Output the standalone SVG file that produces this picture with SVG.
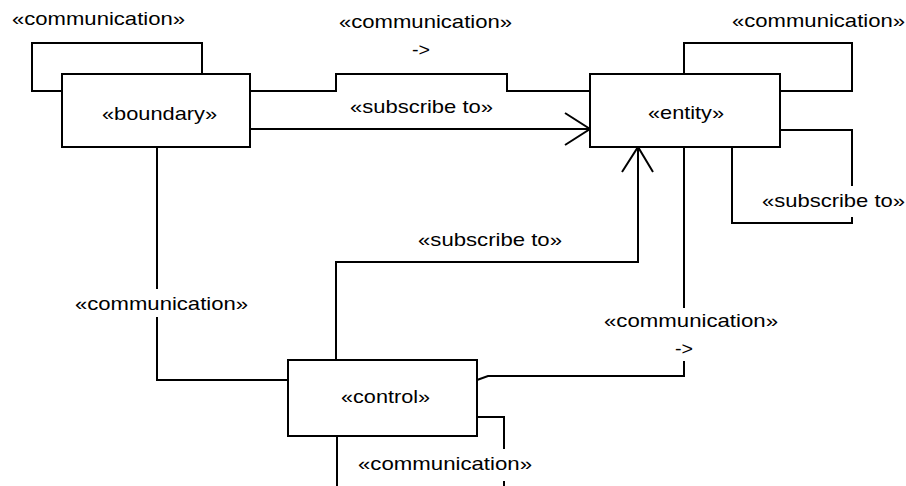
<svg xmlns="http://www.w3.org/2000/svg" width="906" height="486" viewBox="0 0 906 486">
<style>
.node{fill:#fff;stroke:#000;stroke-width:2}
.edge{fill:none;stroke:#000;stroke-width:2}
.t{font-family:"Liberation Sans",Arial,sans-serif;font-size:18.5px;fill:#000}
.bg{fill:#fff;stroke:none}
</style>
<rect width="906" height="486" fill="#fff"/>
<g id="connectors">
  <path class="edge" d="M62,91 H32 V43 H202 V74"/>
  <path class="edge" d="M250,91 H336 V74 H507 V91 H590"/>
  <path class="edge" d="M250,129 H590 M565,113 L590,129 L565,145"/>
  <path class="edge" d="M684,74 V43 H852 V91 H780"/>
  <path class="edge" d="M780,130 H852 V223 H732 V147"/>
  <path class="edge" d="M336,360 V262 H638 V147 M622,172 L638,147 L653,172"/>
  <path class="edge" d="M157,147 V380 H288"/>
  <path class="edge" d="M684,147 V376 H488 L477,380"/>
  <path class="edge" d="M477,417 H504 V500"/>
  <path class="edge" d="M337,436 V500"/>
</g>
<g id="connector-labels">
  <text class="t" x="12" y="25" textLength="173" lengthAdjust="spacingAndGlyphs">«communication»</text>
  <text class="t" x="339" y="28" textLength="173" lengthAdjust="spacingAndGlyphs">«communication»</text>
  <text class="t" x="412" y="56" textLength="18" lengthAdjust="spacingAndGlyphs">-&gt;</text>
  <text class="t" x="350" y="112.5" textLength="143" lengthAdjust="spacingAndGlyphs">«subscribe to»</text>
  <text class="t" x="732" y="27" textLength="173" lengthAdjust="spacingAndGlyphs">«communication»</text>
  <rect class="bg" x="760" y="186" width="146" height="31"/>
  <text class="t" x="762" y="207" textLength="143" lengthAdjust="spacingAndGlyphs">«subscribe to»</text>
  <text class="t" x="418" y="246" textLength="144" lengthAdjust="spacingAndGlyphs">«subscribe to»</text>
  <rect class="bg" x="73" y="289" width="178" height="28"/>
  <text class="t" x="75" y="310" textLength="173" lengthAdjust="spacingAndGlyphs">«communication»</text>
  <rect class="bg" x="602" y="308" width="178" height="53"/>
  <text class="t" x="604" y="327" textLength="174" lengthAdjust="spacingAndGlyphs">«communication»</text>
  <text class="t" x="675" y="355" textLength="18" lengthAdjust="spacingAndGlyphs">-&gt;</text>
  <rect class="bg" x="356" y="449" width="178" height="32"/>
  <text class="t" x="358" y="470" textLength="174" lengthAdjust="spacingAndGlyphs">«communication»</text>
</g>
<g id="boundary">
  <rect class="node" x="62" y="74" width="188" height="73"/>
  <text class="t" x="102" y="119.5" textLength="115" lengthAdjust="spacingAndGlyphs">«boundary»</text>
</g>
<g id="entity">
  <rect class="node" x="590" y="74" width="190" height="73"/>
  <text class="t" x="648" y="119" textLength="76" lengthAdjust="spacingAndGlyphs">«entity»</text>
</g>
<g id="control">
  <rect class="node" x="288" y="360" width="189" height="76"/>
  <text class="t" x="341" y="403" textLength="89" lengthAdjust="spacingAndGlyphs">«control»</text>
</g>
</svg>
